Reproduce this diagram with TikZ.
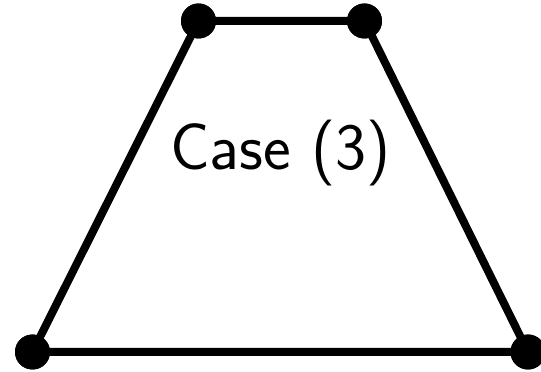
\documentclass[tikz,border=0pt]{standalone}
\begin{document}
\begin{tikzpicture}[x=1pt,y=1pt,
  edge/.style={line width=8pt,line cap=round,line join=round},
  dot/.style={circle,fill=black,inner sep=0pt,minimum size=35pt},
  lbl/.style={font=\sffamily\fontsize{66}{79}\selectfont,inner sep=0pt}]
\useasboundingbox (0,0) rectangle (541,372);
\node[dot] (tl) at (198.5,351) {};
\node[dot] (tr) at (364.5,351) {};
\node[dot] (bl) at (32.5,20) {};
\node[dot] (br) at (528,20) {};
\draw[edge] (tl.center) -- (tr.center) -- (br.center) -- (bl.center) -- cycle;
\node[dot] at (tl) {};
\node[dot] at (tr) {};
\node[dot] at (bl) {};
\node[dot] at (br) {};
\node[lbl] (c) at (280.5,219) {Case (3)};
\end{tikzpicture}
\end{document}
